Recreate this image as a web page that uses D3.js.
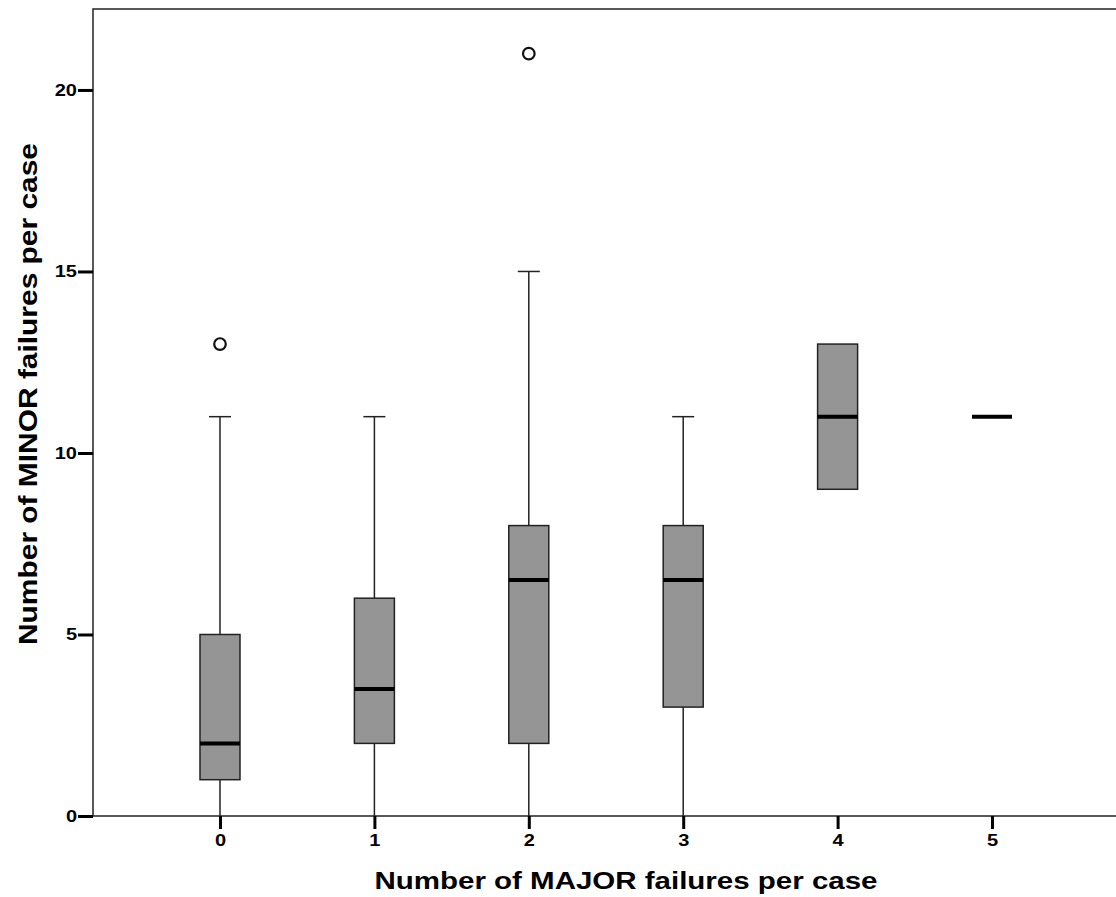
<!DOCTYPE html>
<html>
<head>
<meta charset="utf-8">
<script src="https://cdn.jsdelivr.net/npm/d3@7"></script>
<style>
  body { margin: 0; background: #fff; }
  text { font-family: Arial, 'Liberation Sans', sans-serif; font-weight: bold; fill: #000; }
</style>
</head>
<body>
<svg width="1116" height="897"></svg>
<script>
const svg = d3.select('svg');

// number of MAJOR failures per case (x categories)
const categories = [0, 1, 2, 3, 4, 5];
// box stats for MINOR failures per case
const q1 = [1, 2, 2, 3, 9, 11];
const median = [2, 3.5, 6.5, 6.5, 11, 11];
const q3 = [5, 6, 8, 8, 13, 11];
const whiskerLow = [0, 0, 0, 0, null, null];
const whiskerHigh = [11, 11, 15, 11, null, null];
const outliers = [[13], [], [21], [], [], []];
const yTicks = [0, 5, 10, 15, 20];

const boxes = categories.map((c, i) => ({
  cat: c, q1: q1[i], med: median[i], q3: q3[i],
  lo: whiskerLow[i], hi: whiskerHigh[i], out: outliers[i]
}));

const plotLeft = 93, plotTop = 9, plotRight = 1116, plotBottom = 816;
const stretch = 1.25; // tick labels are drawn wide in the original

// the plot runs a little past the right edge of the picture
const x = d3.scalePoint()
  .domain(categories)
  .range([plotLeft, plotRight + 3])
  .padding(0.8225);

const y = d3.scaleLinear()
  .domain([0, 22.23])
  .range([plotBottom, plotTop]);

const boxW = 40, capW = 22;

// frame (left and top only)
svg.append('path')
  .attr('d', `M${plotLeft},${plotBottom}V${plotTop}H${plotRight}`)
  .attr('fill', 'none')
  .attr('stroke', '#222')
  .attr('stroke-width', 1.5);

const g = svg.append('g');

const item = g.selectAll('g.box')
  .data(boxes)
  .enter()
  .append('g')
  .attr('class', 'box');

// whiskers
item.filter(d => d.hi != null)
  .append('line')
  .attr('x1', d => x(d.cat)).attr('x2', d => x(d.cat))
  .attr('y1', d => y(d.q3)).attr('y2', d => y(d.hi))
  .attr('stroke', '#222').attr('stroke-width', 1.5);
item.filter(d => d.lo != null)
  .append('line')
  .attr('x1', d => x(d.cat)).attr('x2', d => x(d.cat))
  .attr('y1', d => y(d.q1)).attr('y2', d => y(d.lo))
  .attr('stroke', '#222').attr('stroke-width', 1.5);
item.filter(d => d.hi != null)
  .append('line')
  .attr('x1', d => x(d.cat) - capW / 2).attr('x2', d => x(d.cat) + capW / 2)
  .attr('y1', d => y(d.hi)).attr('y2', d => y(d.hi))
  .attr('stroke', '#222').attr('stroke-width', 1.5);

// boxes
item.filter(d => d.q3 > d.q1)
  .append('rect')
  .attr('x', d => x(d.cat) - boxW / 2)
  .attr('width', boxW)
  .attr('y', d => y(d.q3))
  .attr('height', d => y(d.q1) - y(d.q3))
  .attr('fill', '#959595')
  .attr('stroke', '#222')
  .attr('stroke-width', 1.5);

// medians
item.append('line')
  .attr('x1', d => x(d.cat) - boxW / 2).attr('x2', d => x(d.cat) + boxW / 2)
  .attr('y1', d => y(d.med)).attr('y2', d => y(d.med))
  .attr('stroke', '#000').attr('stroke-width', 4);

// outliers
item.selectAll('circle')
  .data(d => d.out.map(v => ({cat: d.cat, v: v})))
  .enter()
  .append('circle')
  .attr('cx', d => x(d.cat))
  .attr('cy', d => y(d.v))
  .attr('r', 5.8)
  .attr('fill', '#fff')
  .attr('stroke', '#111')
  .attr('stroke-width', 2.2);

// x axis
const xAxis = svg.append('g')
  .attr('transform', `translate(0,${plotBottom})`)
  .call(d3.axisBottom(x).tickSize(13).tickPadding(6).tickSizeOuter(0));
xAxis.select('.domain').attr('stroke', '#222').attr('stroke-width', 1.5)
  .attr('d', `M${plotLeft},0H${plotRight}`);
xAxis.selectAll('.tick line').attr('stroke', '#000').attr('stroke-width', 3);
xAxis.selectAll('.tick text')
  .style('font-size', '16px')
  .attr('transform', `scale(${stretch},1)`);

// y axis
const yAxis = svg.append('g')
  .attr('transform', `translate(${plotLeft},0)`)
  .call(d3.axisLeft(y).tickValues(yTicks).tickSize(15).tickPadding(1).tickSizeOuter(0));
yAxis.select('.domain').remove();
yAxis.selectAll('.tick line').attr('stroke', '#000').attr('stroke-width', 3);
yAxis.selectAll('.tick text')
  .style('font-size', '16px')
  .attr('x', -16 / stretch)
  .attr('transform', `scale(${stretch},1)`);

// titles
svg.append('text')
  .attr('x', 626).attr('y', 889)
  .attr('text-anchor', 'middle')
  .attr('textLength', 503)
  .attr('lengthAdjust', 'spacingAndGlyphs')
  .style('font-size', '23px')
  .text('Number of MAJOR failures per case');

svg.append('text')
  .attr('transform', 'translate(37,394) rotate(-90)')
  .attr('text-anchor', 'middle')
  .attr('textLength', 502)
  .attr('lengthAdjust', 'spacingAndGlyphs')
  .style('font-size', '25px')
  .text('Number of MINOR failures per case');
</script>
</body>
</html>
